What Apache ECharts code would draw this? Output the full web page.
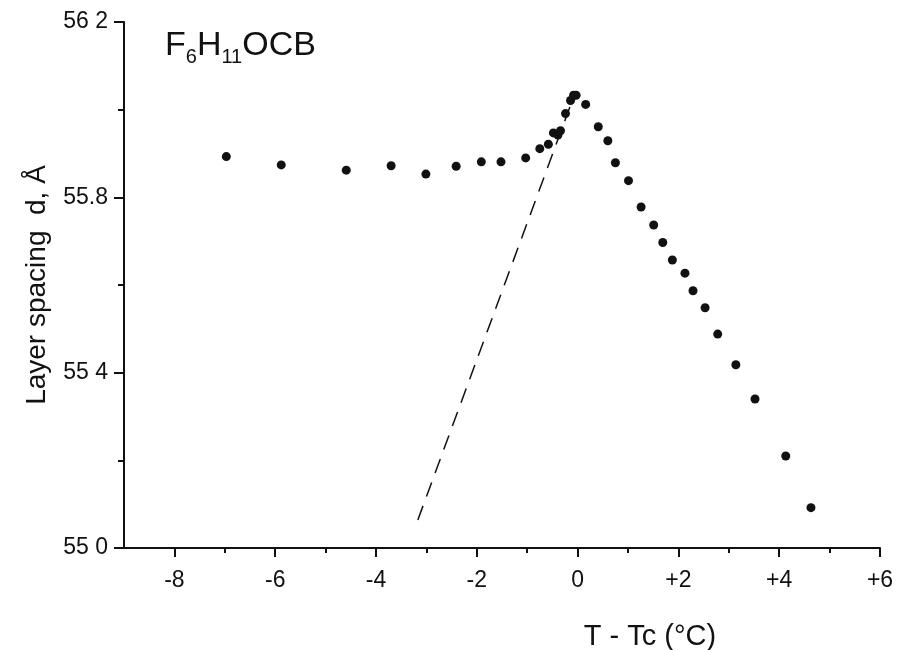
<!DOCTYPE html>
<html>
<head>
<meta charset="utf-8">
<script src="https://cdn.jsdelivr.net/npm/echarts@6/dist/echarts.min.js"></script>
<style>
  html, body { margin: 0; padding: 0; background: #fff; }
  #chart { width: 897px; height: 650px; }
</style>
</head>
<body>
<div id="chart"></div>
<script>
// temperature relative to Tc (°C)
const tVals = [-6.97, -5.88, -4.59, -3.70, -3.01, -2.41, -1.91, -1.52, -1.03, -0.75,
  -0.58, -0.48, -0.39, -0.34, -0.24, -0.14, -0.08, -0.03, 0.16, 0.41,
  0.60, 0.75, 1.01, 1.26, 1.51, 1.69, 1.88, 2.13, 2.29, 2.53,
  2.78, 3.14, 3.52, 4.13, 4.63]
// layer spacing d (Å)
const dVals = [55.893, 55.874, 55.862, 55.872, 55.853, 55.871, 55.881, 55.881, 55.890, 55.911,
  55.921, 55.947, 55.942, 55.952, 55.991, 56.021, 56.033, 56.033, 56.012, 55.961,
  55.929, 55.879, 55.838, 55.778, 55.737, 55.697, 55.657, 55.627, 55.587, 55.548,
  55.488, 55.418, 55.340, 55.210, 55.092]
// dashed guide line
const fitT = [-3.17, -0.08]
const fitD = [55.064, 56.029]

const xTicks = [-8, -6, -4, -2, 0, 2, 4, 6]
const xTickLabels = ['-8', '-6', '-4', '-2', '0', '+2', '+4', '+6']
const xMinorTicks = [-7, -5, -3, -1, 1, 3, 5]
const yTicks = [55.0, 55.4, 55.8, 56.2]
const yTickLabels = ['55 0', '55 4', '55.8', '56 2']
const yMinorTicks = [55.2, 55.6, 56.0]

const font = '"Liberation Sans", Arial, sans-serif'
const black = '#111'

const chart = echarts.init(document.getElementById('chart'))

const xBase = { type: 'value', min: -9, max: 6, gridIndex: 0, position: 'bottom', splitLine: { show: false } }
const yBase = { type: 'value', min: 55.0, max: 56.2, gridIndex: 0, position: 'left', splitLine: { show: false } }

chart.setOption({
  animation: false,
  backgroundColor: '#fff',
  title: {
    left: 160,
    top: 24,
    text: '{a|F}{s|6}{a|H}{s|11}{a|OCB}',
    textStyle: {
      rich: {
        a: { fontFamily: font, fontSize: 34, fontWeight: 'normal', color: black, lineHeight: 38, verticalAlign: 'top' },
        s: { fontFamily: font, fontSize: 20, fontWeight: 'normal', color: black, lineHeight: 20, padding: [18, 0, 0, 0], verticalAlign: 'top' }
      }
    }
  },
  grid: { left: 124, right: 17, top: 22, bottom: 102, outerBoundsMode: 'none' },
  xAxis: [
    Object.assign({}, xBase, {
      name: 'T - Tc (°C)',
      nameLocation: 'middle',
      nameGap: 74,
      nameTextStyle: { fontFamily: font, fontSize: 29, color: black, padding: [0, 0, 0, 296] },
      axisLine: { onZero: false, lineStyle: { color: black, width: 2 } },
      axisTick: { length: 9, lineStyle: { color: black, width: 2 }, customValues: xTicks },
      axisLabel: {
        fontFamily: font, fontSize: 23, color: black, margin: 21,
        customValues: xTicks,
        formatter: v => xTickLabels[xTicks.indexOf(Math.round(v))]
      }
    }),
    Object.assign({}, xBase, {
      axisLine: { show: false, onZero: false },
      axisTick: { length: 5, lineStyle: { color: black, width: 2 }, customValues: xMinorTicks },
      axisLabel: { show: false }
    })
  ],
  yAxis: [
    Object.assign({}, yBase, {
      name: 'Layer spacing  d, Å',
      nameLocation: 'middle',
      nameGap: 73,
      nameTextStyle: { fontFamily: font, fontSize: 28, color: black },
      axisLine: { show: true, onZero: false, lineStyle: { color: black, width: 2 } },
      axisTick: { show: true, length: 10, lineStyle: { color: black, width: 2 }, customValues: yTicks },
      axisLabel: {
        fontFamily: font, fontSize: 23, color: black, margin: 16,
        customValues: yTicks,
        formatter: v => yTickLabels[yTicks.findIndex(t => Math.abs(t - v) < 1e-6)]
      }
    }),
    Object.assign({}, yBase, {
      axisLine: { show: false, onZero: false },
      axisTick: { show: true, length: 6, lineStyle: { color: black, width: 2 }, customValues: yMinorTicks },
      axisLabel: { show: false }
    })
  ],
  series: [
    {
      type: 'line',
      data: fitT.map((t, i) => [t, fitD[i]]),
      showSymbol: false,
      lineStyle: { color: black, width: 1.5, type: [15, 10] },
      z: 1
    },
    {
      type: 'scatter',
      data: tVals.map((t, i) => [t, dVals[i]]),
      symbol: 'circle',
      symbolSize: 9,
      itemStyle: { color: black, opacity: 1 },
      z: 2
    }
  ]
})
</script>
</body>
</html>
